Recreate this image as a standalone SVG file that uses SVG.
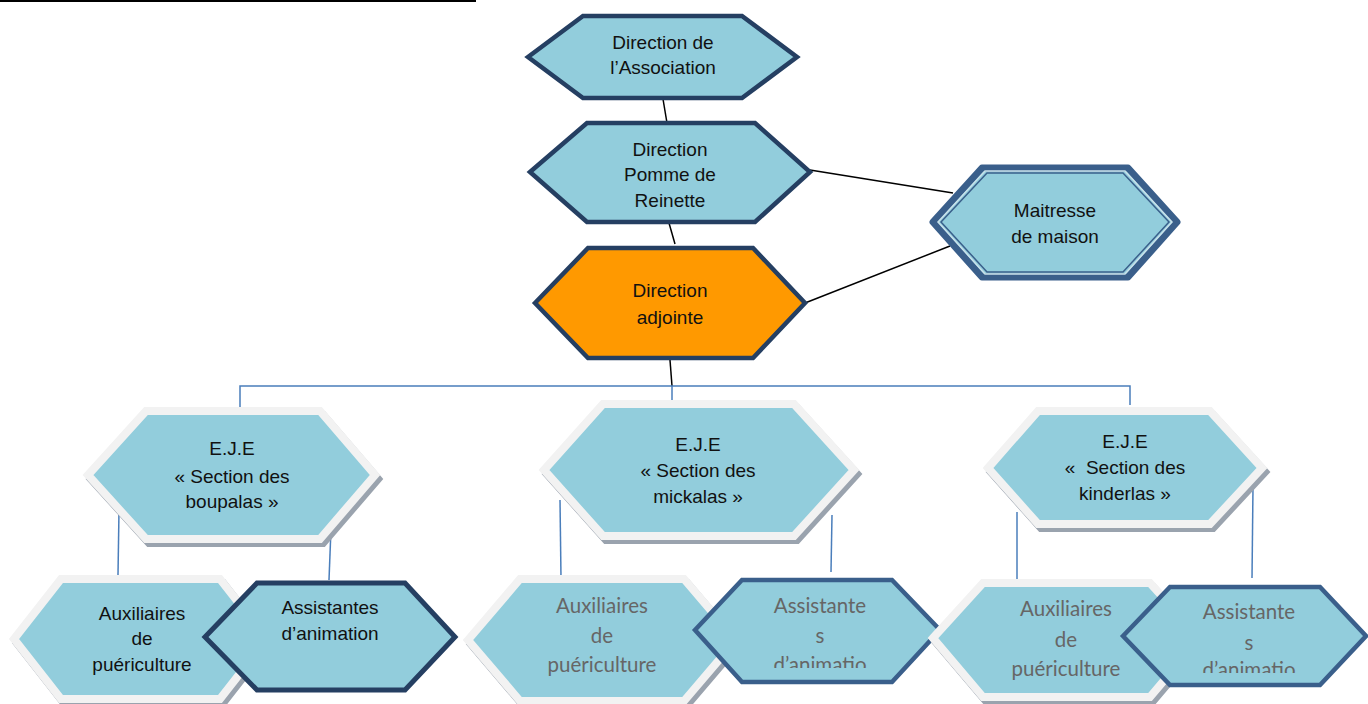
<svg xmlns="http://www.w3.org/2000/svg" width="1368" height="704" viewBox="0 0 1368 704">
<style>
.t{font-family:"Liberation Sans",Arial,sans-serif;font-size:19px;fill:#111;text-anchor:middle}
.g{font-family:Lato,"Liberation Sans",sans-serif;font-size:20.5px;fill:#666;text-anchor:middle}
.dark{fill:#92CDDC;stroke:#253F62;stroke-width:4.5;stroke-linejoin:miter}
.mid{fill:#92CDDC;stroke:#3A5F8B;stroke-width:4.5}
.soft{fill:#92CDDC;stroke:#F2F2F2;stroke-width:8}
.shadow{fill:#9AA3AE;stroke:#9AA3AE;stroke-width:8}
.k{stroke:#000;stroke-width:1.5;fill:none}
.b{stroke:#4A7EBB;stroke-width:1.5;fill:none}
</style>
<defs>
<clipPath id="c2"><rect x="690" y="570" width="260" height="98"/></clipPath>
<clipPath id="c3"><rect x="1115" y="575" width="253" height="98"/></clipPath>
</defs>
<line x1="0" y1="1" x2="476" y2="1" stroke="#000" stroke-width="2"/>
<g id="connectors">
<line class="k" x1="663" y1="99" x2="667" y2="123"/>
<line class="k" x1="667" y1="216" x2="675" y2="244"/>
<line class="k" x1="810" y1="170" x2="953" y2="193"/>
<line class="k" x1="805" y1="303" x2="950" y2="246"/>
<line class="k" x1="670" y1="360" x2="672" y2="386"/>
<polyline class="b" points="240,407 240,386 1130,386 1130,405"/>
<line class="b" x1="672" y1="386" x2="672" y2="412"/>
</g>
<g id="direction-association">
<polygon class="dark" points="528,57 583,16 742,16 797,57 742,98 583,98"/>
<text class="t" x="663" y="49">Direction de</text>
<text class="t" x="663" y="74">l’Association</text>
</g>
<g id="direction-pomme">
<polygon class="dark" points="530,172 587,123 755,123 810,172 755,222 587,222"/>
<text class="t" x="670" y="156">Direction</text>
<text class="t" x="670" y="181">Pomme de</text>
<text class="t" x="670" y="207">Reinette</text>
</g>
<g id="direction-adjointe">
<polygon class="dark" style="fill:#FF9900" points="535,303 588,248 753,248 805,303 753,358 588,358"/>
<text class="t" x="670" y="297">Direction</text>
<text class="t" x="670" y="324">adjointe</text>
</g>
<g id="maitresse">
<polygon fill="#92CDDC" stroke="#3A5F8B" stroke-width="7" stroke-linejoin="round" points="933,222 982,168 1128,168 1177,222 1128,277 982,277"/>
<polygon fill="none" stroke="#C9E1EA" stroke-width="1.5" points="938,222 985,171 1125,171 1172,222 1125,274 985,274"/>
<polygon fill="none" stroke="#3A5F8B" stroke-width="1.5" points="941,222 987,173 1123,173 1169,222 1123,272 987,272"/>
<text class="t" x="1055" y="217">Maitresse</text>
<text class="t" x="1055" y="243">de maison</text>
</g>
<g id="connectors-sub">
<line class="b" x1="119" y1="510" x2="118" y2="575"/>
<line class="b" x1="332" y1="503" x2="329" y2="580"/>
<line class="b" x1="560" y1="500" x2="561" y2="578"/>
<line class="b" x1="832" y1="515" x2="831" y2="572"/>
<line class="b" x1="1017" y1="512" x2="1017" y2="582"/>
<line class="b" x1="1253" y1="487" x2="1252" y2="578"/>
</g>
<g id="eje-boupalas">
<polygon class="shadow" transform="translate(3,4)" points="88,475 146,411 320,411 375,475 320,539 146,539"/>
<polygon class="soft" points="88,475 146,411 320,411 375,475 320,539 146,539"/>
<text class="t" x="232" y="455">E.J.E</text>
<text class="t" x="232" y="483">« Section des</text>
<text class="t" x="232" y="508">boupalas »</text>
</g>
<g id="eje-mickalas">
<polygon class="shadow" transform="translate(3,4)" points="544,470 603,404 794,404 854,470 794,536 603,536"/>
<polygon class="soft" points="544,470 603,404 794,404 854,470 794,536 603,536"/>
<text class="t" x="698" y="451">E.J.E</text>
<text class="t" x="698" y="477">« Section des</text>
<text class="t" x="698" y="503">mickalas »</text>
</g>
<g id="eje-kinderlas">
<polygon class="shadow" transform="translate(3,4)" points="988,468 1038,411 1210,411 1262,468 1210,524 1038,524"/>
<polygon class="soft" points="988,468 1038,411 1210,411 1262,468 1210,524 1038,524"/>
<text class="t" x="1125" y="448">E.J.E</text>
<text class="t" x="1125" y="474" xml:space="preserve">«  Section des</text>
<text class="t" x="1125" y="500">kinderlas »</text>
</g>
<g id="aux-1">
<polygon class="shadow" transform="translate(3,4)" points="14,639 61,579 220,579 267,639 220,699 61,699"/>
<polygon class="soft" points="14,639 61,579 220,579 267,639 220,699 61,699"/>
<text class="t" x="142" y="620">Auxiliaires</text>
<text class="t" x="142" y="645">de</text>
<text class="t" x="142" y="671">puériculture</text>
</g>
<g id="assistantes-1">
<polygon class="dark" style="stroke-width:5" points="205,637 257,583 405,583 455,637 405,690 257,690"/>
<text class="t" x="330" y="614">Assistantes</text>
<text class="t" x="330" y="640">d’animation</text>
</g>
<g id="aux-2">
<polygon class="shadow" transform="translate(3,4)" points="468,640 520,579 684,579 736,640 684,701 520,701"/>
<polygon class="soft" points="468,640 520,579 684,579 736,640 684,701 520,701"/>
<text class="g" x="602" y="613">Auxiliaires</text>
<text class="g" x="602" y="643">de</text>
<text class="g" x="602" y="672">puériculture</text>
</g>
<g id="assistante-2">
<polygon class="mid" points="695,630 742,580 892,580 940,630 892,682 742,682"/>
<g clip-path="url(#c2)">
<text class="g" x="820" y="613">Assistante</text>
<text class="g" x="820" y="643">s</text>
<text class="g" x="820" y="672">d’animatio</text>
</g>
</g>
<g id="aux-3">
<polygon class="shadow" transform="translate(3,4)" points="933,638 983,583 1150,583 1200,638 1150,697 983,697"/>
<polygon class="soft" points="933,638 983,583 1150,583 1200,638 1150,697 983,697"/>
<text class="g" x="1066" y="616">Auxiliaires</text>
<text class="g" x="1066" y="647">de</text>
<text class="g" x="1066" y="676">puériculture</text>
</g>
<g id="assistante-3">
<polygon class="mid" points="1123,636 1170,587 1320,587 1366,636 1320,685 1170,685"/>
<g clip-path="url(#c3)">
<text class="g" x="1249" y="619">Assistante</text>
<text class="g" x="1249" y="650">s</text>
<text class="g" x="1249" y="677">d’animatio</text>
</g>
</g>
</svg>
